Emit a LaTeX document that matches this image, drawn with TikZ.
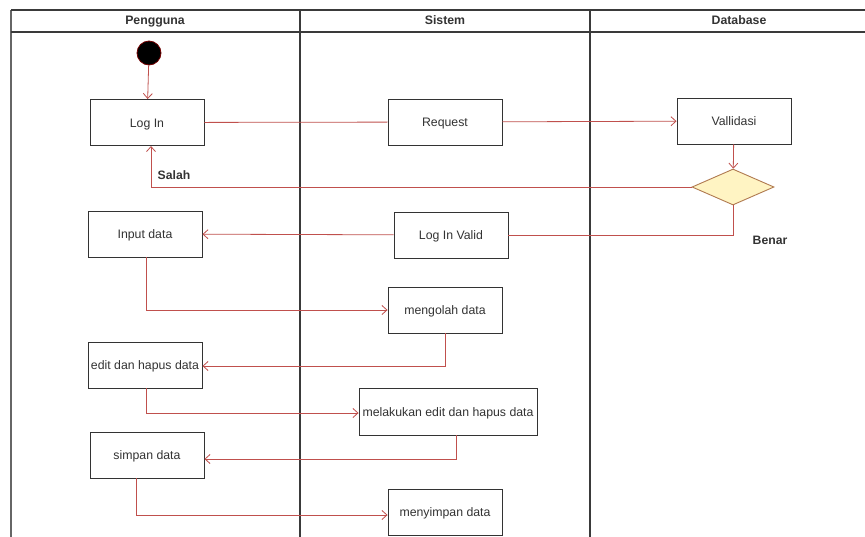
\documentclass[tikz,border=0pt]{standalone}
\usepackage{fontspec}
\setmainfont{Liberation Sans}
\usetikzlibrary{arrows.meta,shapes.geometric}
\definecolor{flow}{HTML}{C0504D}
\definecolor{boxline}{HTML}{333333}
\definecolor{lane}{HTML}{3A3A3A}
\definecolor{decfill}{HTML}{FFF4C3}
\definecolor{decline}{HTML}{B07A50}
\definecolor{txt}{HTML}{333333}
\tikzset{
  act/.style={draw=boxline, line width=0.9pt, fill=white, minimum width=114pt,
    minimum height=46pt, inner sep=0pt, text height=11pt, text depth=2pt,
    font=\fontsize{12.3}{14}\selectfont, text=txt},
  flowline/.style={draw=flow, line width=0.8pt},
  flowarrow/.style={flowline, -{Straight Barb[length=5pt,width=9pt,line width=0.8pt]}},
  laneline/.style={draw=lane, line width=1.3pt},
  head/.style={anchor=base, font=\fontsize{12.3}{14}\selectfont\bfseries, text=txt},
  guard/.style={anchor=base, font=\fontsize{12.2}{14}\selectfont\bfseries, text=txt}
}
\begin{document}
\begin{tikzpicture}[x=1pt,y=-1pt]
\useasboundingbox (0,0) rectangle (865,536);
\fill[white] (0,0) rectangle (865,536);

% swimlane frame
\draw[laneline, draw=gray!80!black] (11,537) -- (11,10);
\draw[laneline] (11,10) -- (866,10);
\draw[laneline] (11,32) -- (866,32);
\draw[laneline] (300,10) -- (300,537);
\draw[laneline] (590,10) -- (590,537);

\node[head] (hp) at (155,24.5) {Pengguna};
\node[head] (hs) at (445,24.5) {Sistem};
\node[head] (hd) at (739,24.5) {Database};

% activities
\node[circle, fill=black, draw=red!45!black, line width=0.8pt, minimum size=24pt, inner sep=0pt] (start) at (149,53) {};
\node[act] (login) at (147,122.5) {Log In};
\node[act] (req) at (445,122) {Request};
\node[act] (val) at (734,121) {Vallidasi};
\node[diamond, draw=decline, fill=decfill, line width=0.9pt, minimum width=82pt, minimum height=36pt, inner sep=0pt, aspect=2.3] (dec) at (733,187) {};
\node[act] (valid) at (451,235) {Log In Valid};
\node[act] (input) at (145,234) {Input data};
\node[act] (olah) at (445,310) {mengolah data};
\node[act] (edit) at (145,365) {edit dan hapus data};
\node[act, minimum width=178pt, minimum height=47pt] (lakukan) at (448,411.5) {melakukan edit dan hapus data};
\node[act] (simpan) at (147,455) {simpan data};
\node[act] (menyimpan) at (445,512) {menyimpan data};

% flows
\draw[flowarrow] (start) -- (login);
\draw[flowline] (login) -- (req);
\draw[flowarrow] (req) -- (val);
\draw[flowarrow] (val) -- (dec);
\draw[flowarrow] (dec.west) -- (151,187) -- (151,146);
\node[guard] (salah) at (174,179.5) {Salah};
\draw[flowline] (dec.south) -- (733,235) -- (valid.east);
\node[guard] (benar) at (770,244) {Benar};
\draw[flowarrow] (valid) -- (input);
\draw[flowarrow] (146,257) -- (146,310) -- (olah.west);
\draw[flowarrow] (445,333) -- (445,366) -- (edit.east |- 0,366);
\draw[flowarrow] (146,388) -- (146,413) -- (lakukan.west |- 0,413);
\draw[flowarrow] (456,435) -- (456,459) -- (simpan.east |- 0,459);
\draw[flowarrow] (136,478) -- (136,515) -- (menyimpan.west |- 0,515);
\end{tikzpicture}
\end{document}
